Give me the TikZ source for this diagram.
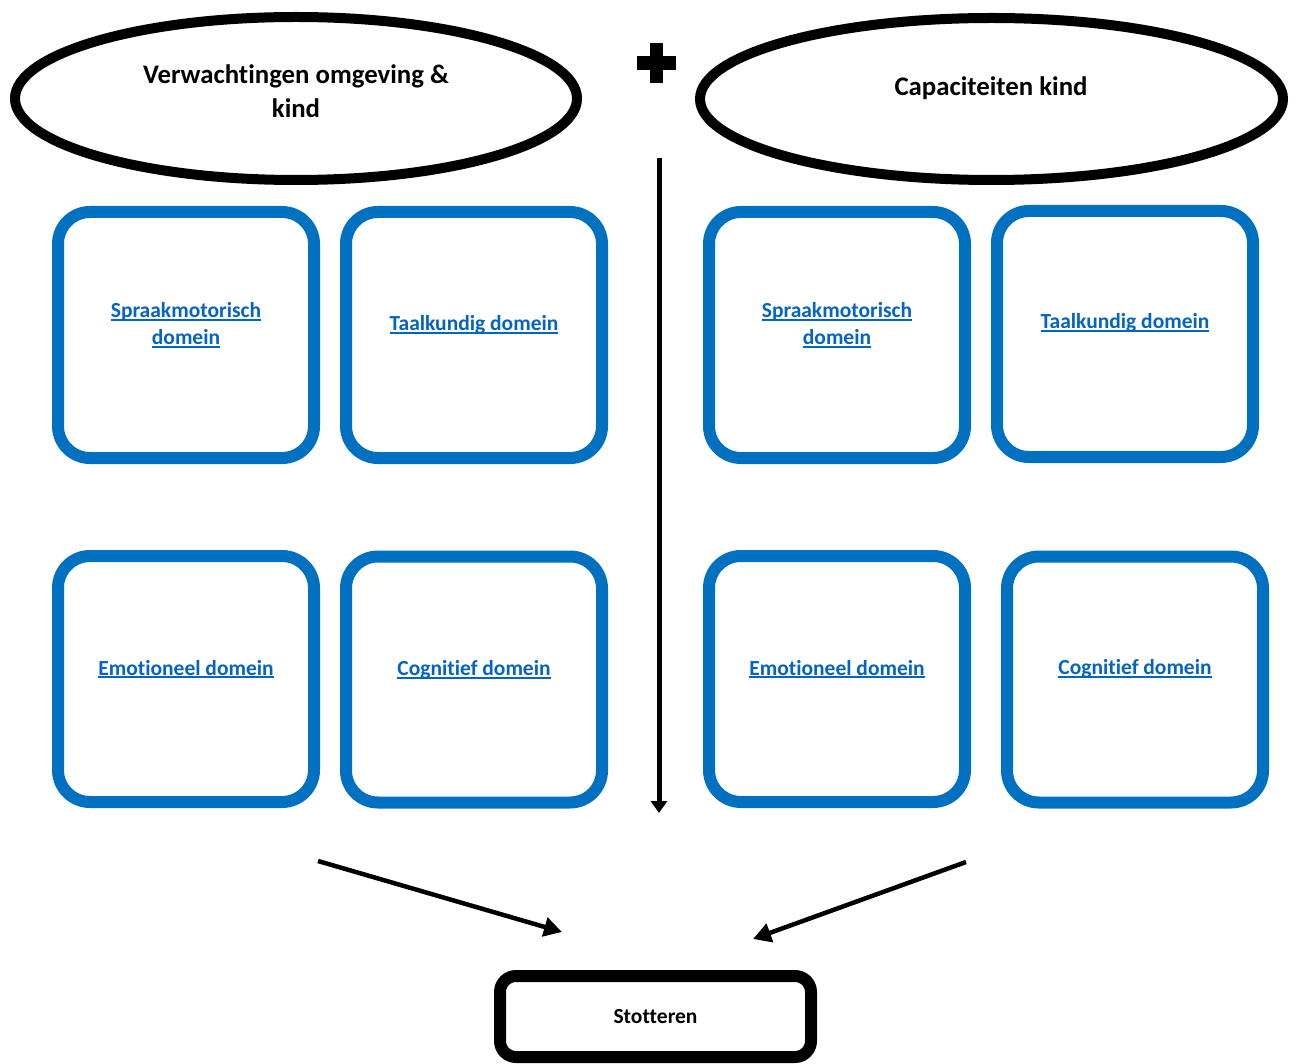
\documentclass[tikz,border=0pt]{standalone}
\usepackage{fontspec}
\setmainfont{Carlito}[Ligatures=CommonOff]
\usetikzlibrary{arrows.meta,shapes.geometric}
\definecolor{boxblue}{HTML}{0070C0}
\definecolor{linkblue}{HTML}{0563C1}
\newcommand\lnk[1]{\leavevmode\setbox0\hbox{#1}\rlap{\rule[-3pt]{\wd0}{1.7pt}}\box0}
\begin{document}
\begin{tikzpicture}[x=1pt,y=-1pt,
  domainbox/.style={draw=boxblue, line width=12pt, rounded corners=32pt,
    minimum width=256pt, minimum height=246pt, inner sep=0pt},
  linktext/.style={text=linkblue, font=\bfseries\fontsize{21.5}{27}\selectfont, align=center, inner sep=0pt},
  oval/.style={draw=black, line width=10pt, ellipse, inner sep=0pt},
  ovaltext/.style={font=\bfseries\fontsize{26.8}{34}\selectfont, align=center, inner sep=0pt},
  arr/.style={line width=4.5pt, -{Triangle[width=19pt,length=18pt]}}
]
\useasboundingbox (0,0) rectangle (1298,1064);

% ovals
\node[oval, minimum width=562pt, minimum height=163pt] (e1) at (296,98.5) {};
\node[ovaltext] (e1t) at (296,91) {Verwachtingen omgeving \&\\kind};
\node[oval, minimum width=583pt, minimum height=162pt] (e2) at (991.5,99) {};
\node[ovaltext] (e2t) at (991,88) {Capaciteiten kind};

% plus
\fill (650,43) rectangle (663,83);
\fill (637,56.5) rectangle (676,70);

% domain boxes
\node[domainbox] (b1) at (186,335) {};
\node[domainbox] (b2) at (474,335) {};
\node[domainbox] (b3) at (837,335) {};
\node[domainbox] (b4) at (1125,334) {};
\node[domainbox] (b5) at (186,679) {};
\node[domainbox] (b6) at (474,679.5) {};
\node[domainbox] (b7) at (837,679) {};
\node[domainbox] (b8) at (1135,679.5) {};

\node[linktext] (t1) at (186,325) {\lnk{Spraakmotorisch}\\\lnk{domein}};
\node[linktext] (t2) at (474,325) {\lnk{Taalkundig domein}};
\node[linktext] (t3) at (837,325) {\lnk{Spraakmotorisch}\\\lnk{domein}};
\node[linktext] (t4) at (1125,323) {\lnk{Taalkundig domein}};
\node[linktext] (t5) at (186,669) {\lnk{Emotioneel domein}};
\node[linktext] (t6) at (474,670) {\lnk{Cognitief domein}};
\node[linktext] (t7) at (837,669) {\lnk{Emotioneel domein}};
\node[linktext] (t8) at (1135,669) {\lnk{Cognitief domein}};

% result box
\node[draw=black, line width=12pt, rounded corners=16pt, minimum width=311pt,
  minimum height=81pt, inner sep=0pt, font=\bfseries\fontsize{21.5}{24}\selectfont] (s) at (655.5,1016.5) {Stotteren};

% arrows
\coordinate (vtop) at (659,158);
\coordinate (vbot) at (659,813);
\draw[line width=5pt, -{Triangle[width=16pt,length=12pt]}] (vtop) -- (vbot);

\coordinate (la) at (318,861);
\coordinate (lb) at (562,932);
\coordinate (ra) at (966,862);
\coordinate (rb) at (753,939);
\draw[arr] (la) -- (lb);
\draw[arr] (ra) -- (rb);
\end{tikzpicture}
\end{document}
